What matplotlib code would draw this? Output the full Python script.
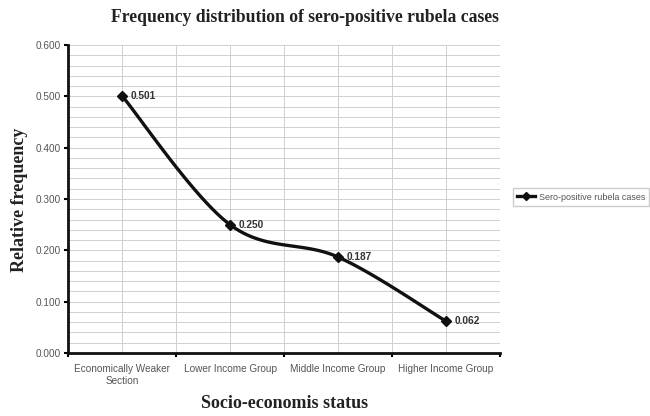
import matplotlib.pyplot as plt
import numpy as np

groups = ["Economically Weaker\nSection", "Lower Income Group",
          "Middle Income Group", "Higher Income Group"]
freq = [0.501, 0.250, 0.187, 0.062]
series_name = "Sero-positive rubela cases"


def smooth_curve(xs, ys, steps=40):
    # cardinal-spline style bezier through each point, like a spreadsheet "smoothed line"
    xs = np.asarray(xs, float)
    ys = np.asarray(ys, float)
    px = np.concatenate([[xs[0]], xs, [xs[-1]]])
    py = np.concatenate([[ys[0]], ys, [ys[-1]]])
    t = np.linspace(0, 1, steps)
    out_x, out_y = [], []
    for i in range(1, len(px) - 2):
        p0 = np.array([px[i], py[i]])
        p3 = np.array([px[i + 1], py[i + 1]])
        p1 = p0 + (np.array([px[i + 1], py[i + 1]]) - np.array([px[i - 1], py[i - 1]])) / 6
        p2 = p3 - (np.array([px[i + 2], py[i + 2]]) - np.array([px[i], py[i]])) / 6
        b = ((1 - t) ** 3)[:, None] * p0 + (3 * (1 - t) ** 2 * t)[:, None] * p1 \
            + (3 * (1 - t) * t ** 2)[:, None] * p2 + (t ** 3)[:, None] * p3
        out_x.extend(b[:, 0])
        out_y.extend(b[:, 1])
    return np.array(out_x), np.array(out_y)


fig = plt.figure(figsize=(6.5, 4.16), dpi=100)
ax = fig.add_axes([68 / 650, 1 - 353 / 416, 432 / 650, 308 / 416])

x = np.arange(len(groups))
cx, cy = smooth_curve(x, freq)
ax.plot(cx, cy, color="#111111", lw=2.4, zorder=3)
ax.plot(x, freq, linestyle="none", marker="D", ms=4.8, color="#111111", zorder=4,
        label=series_name)

for xi, v in zip(x, freq):
    ax.annotate(f"{v:.3f}", (xi, v), xytext=(6, 0), textcoords="offset points",
                va="center", ha="left", fontsize=7.3, fontweight="bold",
                family="Liberation Sans", color="#333333")

ax.set_xlim(-0.5, 3.5)
ax.set_ylim(0, 0.6)
ax.set_yticks(np.arange(0, 0.61, 0.1))
ax.set_yticklabels([f"{v:.3f}" for v in np.arange(0, 0.61, 0.1)])
ax.set_yticks(np.arange(0, 0.601, 0.02), minor=True)
ax.set_xticks(x)
ax.set_xticklabels(groups)
ax.set_xticks(np.arange(-0.5, 3.51, 0.5), minor=True)

ax.grid(True, which="both", color="#d0d0d0", lw=0.7)
ax.set_axisbelow(True)
ax.tick_params(axis="x", which="major", length=0, pad=8)
ax.tick_params(axis="x", which="minor", length=3, width=1.5, direction="out")
ax.tick_params(axis="y", which="major", length=3, width=1.5, direction="out", pad=2)
ax.tick_params(axis="y", which="minor", length=0)
for lbl in ax.get_xticklabels() + ax.get_yticklabels():
    lbl.set_fontsize(7.2)
    lbl.set_family("Liberation Sans")
    lbl.set_color("#555555")

for s in ["top", "right"]:
    ax.spines[s].set_visible(False)
for s in ["left", "bottom"]:
    ax.spines[s].set_linewidth(2)
    ax.spines[s].set_color("#111111")

fig.text(305 / 650, 1 - 18 / 416, "Frequency distribution of sero-positive rubela cases",
         ha="center", va="center", fontsize=12.7, fontweight="bold",
         family="Liberation Serif", color="#222222")
fig.text(20 / 650, 1 - 200 / 416, "Relative frequency", rotation=90,
         ha="center", va="center", fontsize=13, fontweight="bold",
         family="Liberation Serif", color="#222222")
fig.text(285 / 650, 1 - 404 / 416, "Socio-economis status",
         ha="center", va="center", fontsize=13, fontweight="bold",
         family="Liberation Serif", color="#222222")

handle = plt.Line2D([], [], color="#111111", lw=2.4, marker="D", ms=4)
leg = fig.legend([handle], [series_name], loc="center right",
                 bbox_to_anchor=(649 / 650, 1 - 197 / 416),
                 frameon=True, fancybox=False, edgecolor="#c0c0c0",
                 handlelength=2.0, handletextpad=0.4, borderpad=0.45,
                 borderaxespad=0.0,
                 prop={"family": "Liberation Sans", "size": 6.5})
for t in leg.get_texts():
    t.set_color("#555555")

fig.savefig("out.png", dpi=100)
